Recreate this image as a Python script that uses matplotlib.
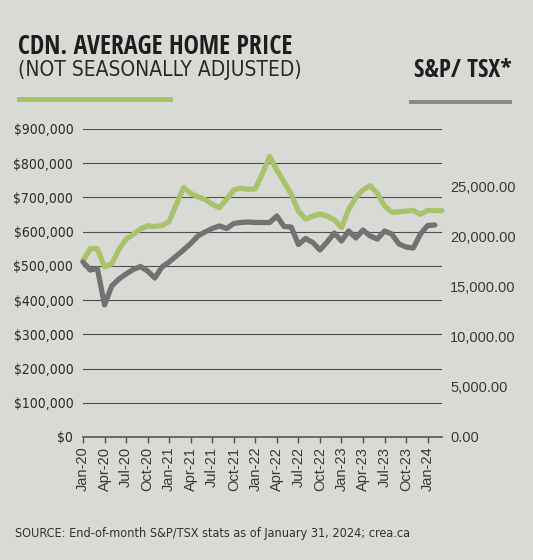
import matplotlib.pyplot as plt
from matplotlib.patches import Rectangle
import numpy as np

# monthly values, starting Jan-2020
home_price = [515, 550, 550, 497, 506, 548, 578, 592, 608, 617, 615, 618,
              630, 680, 729, 712, 702, 694, 680, 670, 695, 722, 727, 724,
              725, 770, 820, 780, 745, 710, 660, 637, 645, 652, 645, 635,
              612, 665, 700, 722, 734, 712, 675, 657, 658, 660, 662, 651,
              662, 662, 661]
home_price = [v * 1000 for v in home_price]

tsx = [17500, 16700, 16850, 13200, 15100, 15800, 16300, 16750, 17050, 16600,
       15900, 17000, 17500, 18100, 18700, 19350, 20100, 20500, 20850, 21100,
       20850, 21350, 21450, 21500, 21450, 21450, 21450, 22100, 21050, 21000,
       19250, 19850, 19450, 18700, 19500, 20400, 19600, 20600, 19900, 20700,
       20100, 19800, 20600, 20300, 19300, 19000, 18900, 20300, 21150, 21200]

tick_labels = ['Jan-20', 'Apr-20', 'Jul-20', 'Oct-20', 'Jan-21', 'Apr-21',
               'Jul-21', 'Oct-21', 'Jan-22', 'Apr-22', 'Jul-22', 'Oct-22',
               'Jan-23', 'Apr-23', 'Jul-23', 'Oct-23', 'Jan-24']
left_ticks = list(range(0, 900001, 100000))
right_ticks = [0, 5000, 10000, 15000, 20000, 25000]

bg = '#d9dad5'
green = '#a9c36c'
grey = '#727272'
txt = '#2b2b2b'
sans = ['Liberation Sans', 'DejaVu Sans']

fig = plt.figure(figsize=(5.33, 5.6), dpi=100, facecolor=bg)
ax = fig.add_axes([83 / 533, 123 / 560, 359 / 533, 308 / 560])
ax.set_facecolor(bg)
ax2 = ax.twinx()

x_price = np.arange(len(home_price))
x_tsx = np.arange(len(tsx))

ax.plot(x_price, home_price, color=green, lw=3.8, solid_joinstyle='round',
        solid_capstyle='round', clip_on=False, zorder=3)
ax2.plot(x_tsx, tsx, color=grey, lw=3.8, solid_joinstyle='round',
         solid_capstyle='round', clip_on=False, zorder=3)

ax.set_xlim(0, 50)
ax.set_ylim(0, 900000)
ax2.set_ylim(0, 30800)

# grid lines on the left scale
for v in left_ticks[1:]:
    ax.axhline(v, color='#4f4f4f', lw=0.8, zorder=1)

ax.set_yticks(left_ticks)
ax.set_yticklabels(['$' + format(v, ',') if v else '$0' for v in left_ticks],
                   family='DejaVu Sans', stretch='condensed', fontsize=10,
                   color=txt)
ax.tick_params(axis='y', length=0, pad=7)

ax2.set_yticks(right_ticks)
ax2.set_yticklabels([format(v, ',.2f') for v in right_ticks],
                    family=sans, fontsize=10.5, color='#3a3a3a')
ax2.tick_params(axis='y', length=0, pad=6)

ax.set_xticks(np.arange(0, 49, 3))
ax.set_xticklabels(tick_labels, rotation=90, family=sans, fontsize=10.5,
                   color='#3a3a3a')
ax.tick_params(axis='x', direction='out', length=4, width=1, color='#555555',
               pad=3)

for a in (ax, ax2):
    for s in ('top', 'left', 'right', 'bottom'):
        a.spines[s].set_visible(False)
ax.spines['bottom'].set_visible(True)
ax.spines['bottom'].set_color('#555555')
ax.spines['bottom'].set_linewidth(1.2)

# heading
fig.text(18 / 533, 1 - 53.5 / 560, 'CDN. AVERAGE HOME PRICE',
         family='Open Sans Condensed', fontweight='bold', stretch='condensed',
         fontsize=18.5, color='#1e1e1e', va='baseline')
fig.text(18 / 533, 1 - 76 / 560, '(NOT SEASONALLY ADJUSTED)',
         family='DejaVu Sans', stretch='condensed', fontsize=15,
         color='#2a2a2a', va='baseline')
fig.text(512 / 533, 1 - 77.3 / 560, 'S&P/ TSX*',
         family='Open Sans Condensed', fontweight='bold', stretch='condensed',
         fontsize=18, color='#1e1e1e', va='baseline', ha='right')
fig.add_artist(Rectangle((17 / 533, 1 - 101.5 / 560), 156 / 533, 5 / 560,
                         transform=fig.transFigure, color=green, lw=0))
fig.add_artist(Rectangle((409 / 533, 1 - 104 / 560), 103 / 533, 4.5 / 560,
                         transform=fig.transFigure, color='#8a8a8a', lw=0))

fig.text(15 / 533, 1 - 537.5 / 560,
         'SOURCE: End-of-month S&P/TSX stats as of January 31, 2024; crea.ca',
         family='DejaVu Sans', stretch='condensed', fontsize=9.1,
         color='#333333', va='baseline')

fig.savefig('out.png', dpi=100, facecolor=bg)
